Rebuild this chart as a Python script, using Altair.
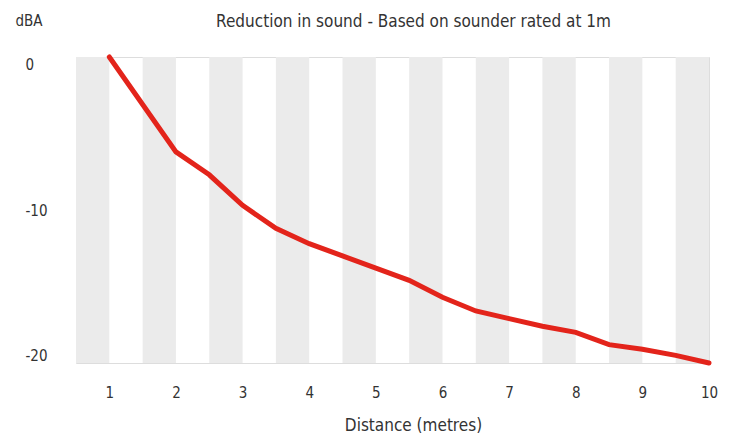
import altair as alt
import pandas as pd

distance = [1, 2, 2.5, 3, 3.5, 4, 4.5, 5, 5.5, 6, 6.5, 7, 7.5, 8, 8.5, 9, 9.5, 10]
dba = [0, -6.2, -7.7, -9.7, -11.2, -12.2, -13.0, -13.8, -14.6, -15.7, -16.6, -17.1, -17.6, -18.0, -18.8, -19.1, -19.5, -20.0]

band_start = [0.5, 1.5, 2.5, 3.5, 4.5, 5.5, 6.5, 7.5, 8.5, 9.5]
band_end = [1, 2, 3, 4, 5, 6, 7, 8, 9, 10]

x_ticks = [1, 2, 3, 4, 5, 6, 7, 8, 9, 10]
y_ticks = [0, -10, -20]

FONT = "'DejaVu Sans Condensed', 'Liberation Sans', sans-serif"
TXT = "#333333"
FS = 15
TFS = 17

line_df = pd.DataFrame({"d": distance, "v": dba})
band_df = pd.DataFrame({"s": band_start, "e": band_end, "top": [0] * len(band_start), "bot": [-20] * len(band_start)})

xscale = alt.Scale(domain=[0.5, 10], nice=False, zero=False)
yscale = alt.Scale(domain=[-20, 0], nice=False, zero=False)

bands = alt.Chart(band_df).mark_rect(color="#ebebeb").encode(
    x=alt.X("s:Q", scale=xscale,
            axis=alt.Axis(values=x_ticks, title="Distance (metres)", grid=False, domain=False,
                          ticks=False, tickSize=0, labelPadding=22, labelFontSize=FS,
                          labelFlush=False, labelExpr="'' + datum.value",
                          labelColor=TXT, labelFont=FONT, titleFont=FONT, titleFontSize=TFS,
                          titleColor=TXT, titleFontWeight="normal", titleX=337, titleY=62,
                          titleBaseline="middle")),
    x2="e:Q",
    y=alt.Y("top:Q", scale=yscale,
            axis=alt.Axis(values=y_ticks, title="dBA", grid=False, domain=False, ticks=False,
                          tickSize=0, labelAlign="left", labelPadding=51, labelFlush=True,
                          labelExpr="'' + datum.value",
                          labelFontSize=FS, labelColor=TXT, labelFont=FONT, titleFont=FONT,
                          titleFontSize=FS, titleColor=TXT, titleFontWeight="normal",
                          titleAngle=0, titleAlign="left", titleBaseline="middle",
                          titleX=-61, titleY=-37)),
    y2="bot:Q",
)

line = alt.Chart(line_df).mark_line(color="#e3241b", strokeWidth=5, strokeCap="round").encode(
    x=alt.X("d:Q", scale=xscale),
    y=alt.Y("v:Q", scale=yscale),
)

chart = (bands + line).properties(
    width=633, height=306,
    title=alt.TitleParams("Reduction in sound - Based on sounder rated at 1m", font=FONT,
                          fontSize=TFS, fontWeight="normal", color=TXT, dx=21, offset=-18),
).configure_view(stroke=None).configure(padding={"left": 7, "top": 5, "right": 5, "bottom": 5})

chart.save("out.html", embed_options={"renderer": "svg", "actions": False})
